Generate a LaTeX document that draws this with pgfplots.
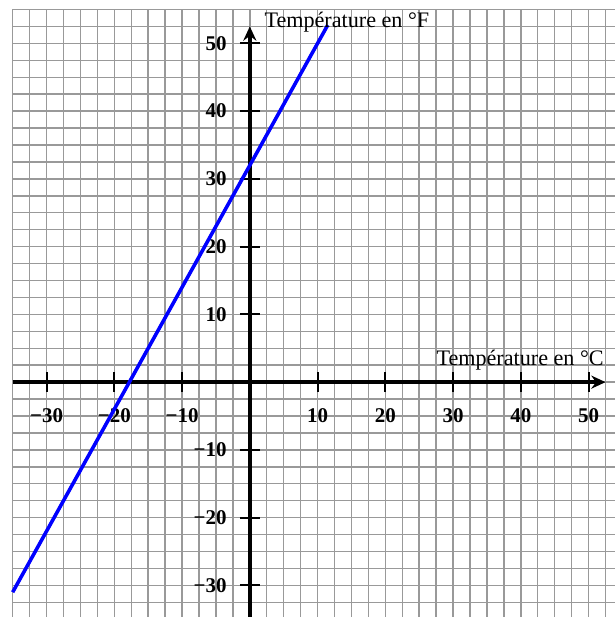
\documentclass[border=0pt]{standalone}
\usepackage{fontspec}
\setmainfont{Liberation Serif}
\usepackage{pgfplots}
\pgfplotsset{compat=1.18}
\usetikzlibrary{arrows.meta}
\begin{document}
\fontsize{9.3}{11}\selectfont
\begin{tikzpicture}
\begin{axis}[
  x=1mm, y=1mm,
  xmin=-35, xmax=53.87, ymin=-34.66, ymax=55,
  axis lines=middle,
  axis line style={draw=none},
  xtick={-30,-20,-10,10,20,30,40,50},
  xticklabels={−30,−20,−10,10,20,30,40,50},
  ytick={-30,-20,-10,10,20,30,40,50},
  yticklabels={−30,−20,−10,10,20,30,40,50},
  minor xtick={-35,-32.5,-30,-27.5,-25,-22.5,-20,-17.5,-15,-12.5,-10,-7.5,-5,-2.5,0,2.5,5,7.5,10,12.5,15,17.5,20,22.5,25,27.5,30,32.5,35,37.5,40,42.5,45,47.5,50,52.5,55},
  minor ytick={-35,-32.5,-30,-27.5,-25,-22.5,-20,-17.5,-15,-12.5,-10,-7.5,-5,-2.5,0,2.5,5,7.5,10,12.5,15,17.5,20,22.5,25,27.5,30,32.5,35,37.5,40,42.5,45,47.5,50,52.5,55},
  grid=minor,
  minor grid style={black!40, line width=0.6pt},
  minor tick length=0pt,
  major tick length=8.4pt,
  tick align=center,
  major tick style={black, line width=0.8pt},
  ticklabel style={font=\fontsize{8.8}{10}\selectfont\bfseries},
  xticklabel style={anchor=north, yshift=-3.8pt},
  yticklabel style={anchor=east, xshift=-2.3pt},
  clip=false,
]
\path (axis cs:-36.87,56.4) -- (axis cs:-36.5,56.2);
\draw[line width=1.7pt, -{Stealth[length=6pt,width=5.5pt,inset=2pt]}] (axis cs:-35,0) -- (axis cs:52.5,0);
\draw[line width=1.7pt, -{Stealth[length=6pt,width=5.5pt,inset=2pt]}] (axis cs:0,-34.66) -- (axis cs:0,52.5);
\addplot[blue, line width=1.5pt] coordinates {(-35,-31) (11.5,52.7)};
\node[anchor=base east, inner sep=0pt] at (axis cs:52.3,2.5) {Température en °C};
\node[anchor=base west, inner sep=0pt] at (axis cs:2.1,52.4) {Température en °F};
\end{axis}
\end{tikzpicture}
\end{document}
